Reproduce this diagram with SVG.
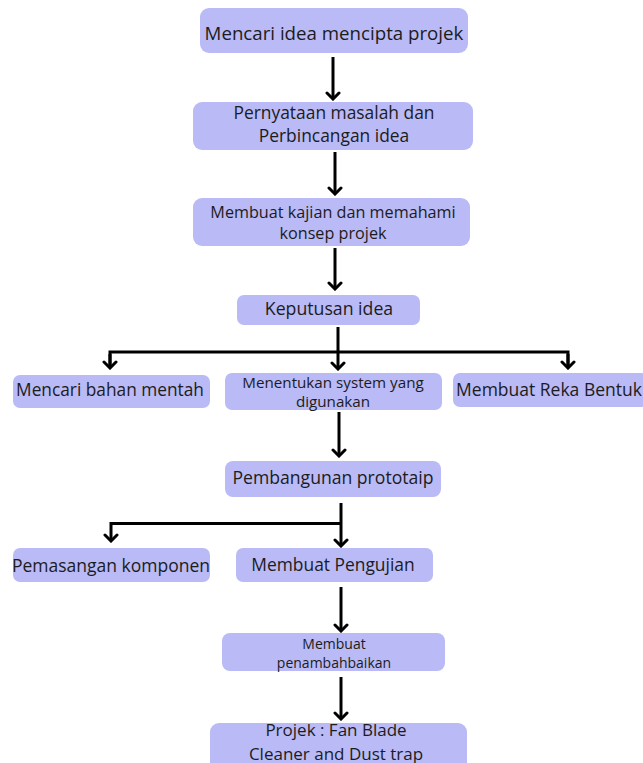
<svg xmlns="http://www.w3.org/2000/svg" width="643" height="763" viewBox="0 0 643 763">
<defs>
<style>
.box{fill:#b9baf6;}
.t{font-family:"Open Sans","Noto Sans","DejaVu Sans",sans-serif;fill:#1c1c1c;text-anchor:middle;dominant-baseline:central;}
.c{stroke:#000;stroke-width:3;fill:none;}
</style>
<marker id="ah" viewBox="-8 -8 10 16" refX="0" refY="0" markerWidth="10" markerHeight="16" markerUnits="userSpaceOnUse" orient="auto">
<path d="M-6,-6 L0,0 L-6,6" stroke="#000" stroke-width="3" fill="none" stroke-linecap="round" stroke-linejoin="miter"/>
</marker>
</defs>
<rect width="643" height="763" fill="#ffffff"/>
<g id="connectors">
<path class="c" d="M333,57 V99" marker-end="url(#ah)"/>
<path class="c" d="M335,152 V194" marker-end="url(#ah)"/>
<path class="c" d="M335,248 V289" marker-end="url(#ah)"/>
<path class="c" d="M338,327 V369" marker-end="url(#ah)"/>
<path class="c" d="M110,368 V352 H568 V368"/>
<path class="c" d="M110,354 V368" marker-end="url(#ah)"/>
<path class="c" d="M568,354 V368" marker-end="url(#ah)"/>
<path class="c" d="M339,412 V456" marker-end="url(#ah)"/>
<path class="c" d="M341,503 V546" marker-end="url(#ah)"/>
<path class="c" d="M341,523.5 H111 V541" marker-end="url(#ah)"/>
<path class="c" d="M341,587 V631" marker-end="url(#ah)"/>
<path class="c" d="M341,677 V719" marker-end="url(#ah)"/>
</g>
<g id="n1"><rect class="box" x="200" y="8" width="268" height="45" rx="9"/><text class="t" x="334" y="32" font-size="18.7">Mencari idea mencipta projek</text></g>
<g id="n2"><rect class="box" x="193" y="102" width="280" height="48" rx="9"/><text class="t" x="334" y="112" font-size="17.4">Pernyataan masalah dan</text><text class="t" x="334" y="135" font-size="17.4">Perbincangan idea</text></g>
<g id="n3"><rect class="box" x="193" y="198" width="277" height="48" rx="9"/><text class="t" x="333" y="212" font-size="16.2">Membuat kajian dan memahami</text><text class="t" x="333" y="233" font-size="16.2">konsep projek</text></g>
<g id="n4"><rect class="box" x="237" y="295" width="183" height="30" rx="7"/><text class="t" x="329" y="308" font-size="17.7">Keputusan idea</text></g>
<g id="n5"><rect class="box" x="13" y="375" width="197" height="33" rx="7"/><text class="t" x="110" y="389" font-size="17.3">Mencari bahan mentah</text></g>
<g id="n6"><rect class="box" x="225" y="373" width="217" height="37" rx="7"/><text class="t" x="333" y="382" font-size="15.2">Menentukan system yang</text><text class="t" x="333" y="401" font-size="15.2">digunakan</text></g>
<g id="n7"><rect class="box" x="453" y="373" width="195" height="34" rx="7"/><text class="t" x="549" y="389" font-size="17.5">Membuat Reka Bentuk</text></g>
<g id="n8"><rect class="box" x="225" y="461" width="216" height="36" rx="8"/><text class="t" x="333" y="477" font-size="17.6">Pembangunan prototaip</text></g>
<g id="n9"><rect class="box" x="13" y="548" width="197" height="34" rx="7"/><text class="t" x="111" y="565" font-size="17.5">Pemasangan komponen</text></g>
<g id="n10"><rect class="box" x="236" y="548" width="197" height="34" rx="7"/><text class="t" x="333" y="564" font-size="17.4">Membuat Pengujian</text></g>
<g id="n11"><rect class="box" x="222" y="633" width="223" height="38" rx="8"/><text class="t" x="334" y="643" font-size="14">Membuat</text><text class="t" x="334" y="662" font-size="14">penambahbaikan</text></g>
<g id="n12"><rect class="box" x="210" y="723" width="257" height="50" rx="9"/><text class="t" x="336" y="729" font-size="17"><tspan x="336" y="729">Projek : Fan Blade</tspan><tspan x="336" y="752.5">Cleaner and Dust trap</tspan></text></g>
</svg>
